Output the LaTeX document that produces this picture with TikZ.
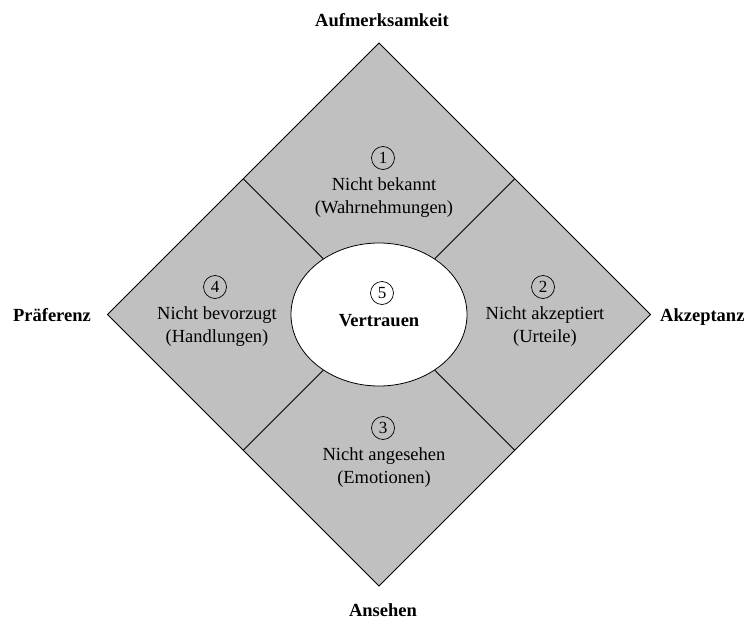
\documentclass[tikz,border=0pt]{standalone}
\usepackage{fontspec}
\setmainfont{Liberation Serif}
\usetikzlibrary{shapes.geometric}
\definecolor{quadgray}{HTML}{C0C0C0}
\tikzset{
  numcirc/.style={draw, circle, minimum size=23pt, inner sep=0pt, line width=0.7pt, font=\fontsize{17}{20}\selectfont},
  quadtext/.style={align=center, inner sep=0pt, font=\fontsize{18.5}{23}\selectfont},
  corner/.style={inner sep=0pt, font=\fontsize{18.5}{23}\selectfont\bfseries},
  divider/.style={line width=0.8pt},
}
\begin{document}
\begin{tikzpicture}[x=1pt,y=-1pt]
\useasboundingbox (0,0) rectangle (747,621);
% diamond
\coordinate (T) at (379,43);
\coordinate (R) at (650.5,314.5);
\coordinate (B) at (379,586);
\coordinate (L) at (107.5,314.5);
\draw[fill=quadgray, line width=0.8pt] (T) -- (R) -- (B) -- (L) -- cycle;
% edge midpoints
\coordinate (mUL) at (243.25,178.75);
\coordinate (mUR) at (514.75,178.75);
\coordinate (mLR) at (514.75,450.25);
\coordinate (mLL) at (243.25,450.25);
% center ellipse
\node[draw, ellipse, fill=white, line width=0.8pt, minimum width=176pt, minimum height=143pt, inner sep=0pt] (ell) at (379,314.5) {};
\draw[divider] (mUL) -- (ell);
\draw[divider] (mUR) -- (ell);
\draw[divider] (mLR) -- (ell);
\draw[divider] (mLL) -- (ell);
% quadrant 1
\node[numcirc] (c1) at (383,158) {1};
\node[quadtext] (t1) at (384,198) {Nicht bekannt\\(Wahrnehmungen)};
% quadrant 2
\node[numcirc] (c2) at (543,287) {2};
\node[quadtext] (t2) at (545,327) {Nicht akzeptiert\\(Urteile)};
% quadrant 3
\node[numcirc] (c3) at (383,428) {3};
\node[quadtext] (t3) at (384,468) {Nicht angesehen\\(Emotionen)};
% quadrant 4
\node[numcirc] (c4) at (215,287) {4};
\node[quadtext] (t4) at (217,327) {Nicht bevorzugt\\(Handlungen)};
% center
\node[numcirc] (c5) at (382,293) {5};
\node[corner] (t5) at (379,321) {Vertrauen};
% corner labels
\node[corner, anchor=base] (lt) at (382,26) {Aufmerksamkeit};
\node[corner, anchor=base east] (ll) at (91,321.5) {Präferenz};
\node[corner, anchor=base west] (lr) at (660,321.5) {Akzeptanz};
\node[corner, anchor=base] (lb) at (383,616) {Ansehen};
\end{tikzpicture}
\end{document}
